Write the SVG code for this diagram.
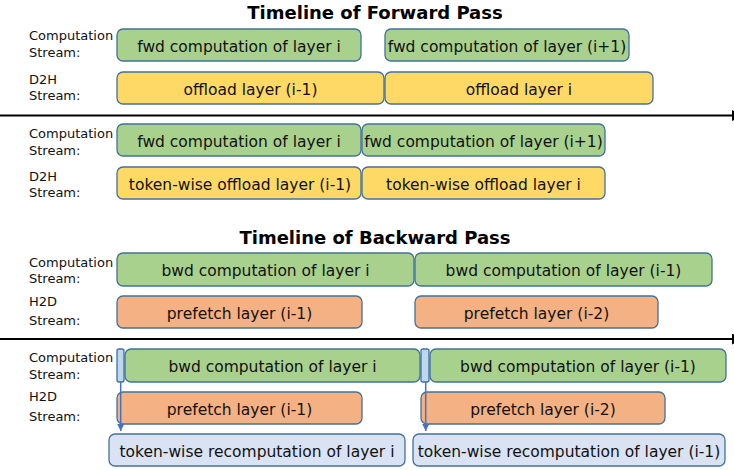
<svg xmlns="http://www.w3.org/2000/svg" width="734" height="470" viewBox="0 0 734 470">
<defs>
<style>
.box{stroke:#41719C;stroke-width:1.3}
.g{fill:#A9D18E}
.y{fill:#FFD966}
.o{fill:#F4B183}
.lb{fill:#DAE3F3}
.sb{fill:#BDD7EE}
.t{font-family:"DejaVu Sans","Noto Sans",sans-serif;font-size:15.5px;fill:#111;text-anchor:middle}
.lab{font-family:"DejaVu Sans","Noto Sans",sans-serif;font-size:13px;fill:#111}
.title{font-family:"DejaVu Sans","Noto Sans",sans-serif;font-size:18px;font-weight:bold;fill:#000;text-anchor:middle}
.axis{stroke:#000;stroke-width:2.2;fill:none}
.arr{stroke:#4472C4;stroke-width:1.5;fill:none}
</style>
<marker id="axhead" viewBox="0 0 10 10" refX="10" refY="5" markerWidth="5" markerHeight="5" orient="auto" markerUnits="strokeWidth">
<path d="M0,0 L10,5 L0,10 z" fill="#000"/>
</marker>
<marker id="bhead" viewBox="0 0 10 10" refX="10" refY="5" markerWidth="5" markerHeight="5" orient="auto" markerUnits="strokeWidth">
<path d="M0,0 L10,5 L0,10 z" fill="#4472C4"/>
</marker>
</defs>
<rect width="734" height="470" fill="#fff"/>

<text class="title" x="375" y="19">Timeline of Forward Pass</text>
<text class="title" x="375" y="244">Timeline of Backward Pass</text>

<g id="labels">
<text class="lab" x="29" y="40">Computation</text>
<text class="lab" x="29" y="57">Stream:</text>
<text class="lab" x="29" y="84">D2H</text>
<text class="lab" x="29" y="100">Stream:</text>

<text class="lab" x="29" y="138">Computation</text>
<text class="lab" x="29" y="155">Stream:</text>
<text class="lab" x="29" y="181">D2H</text>
<text class="lab" x="29" y="197">Stream:</text>

<text class="lab" x="29" y="267">Computation</text>
<text class="lab" x="29" y="283">Stream:</text>
<text class="lab" x="29" y="306">H2D</text>
<text class="lab" x="29" y="325">Stream:</text>

<text class="lab" x="29" y="362">Computation</text>
<text class="lab" x="29" y="379">Stream:</text>
<text class="lab" x="29" y="401">H2D</text>
<text class="lab" x="29" y="421">Stream:</text>
</g>

<!-- Section 1 -->
<g id="f1-comp-i"><rect class="box g" x="117" y="29" width="244" height="32" rx="6"/><text class="t" x="239" y="51.5">fwd computation of layer i</text></g>
<g id="f1-comp-i1"><rect class="box g" x="385" y="29" width="244" height="32" rx="6"/><text class="t" x="507" y="51.5">fwd computation of layer (i+1)</text></g>
<g id="f1-off-im1"><rect class="box y" x="117" y="72" width="267" height="32" rx="6"/><text class="t" x="250.5" y="94.5">offload layer (i-1)</text></g>
<g id="f1-off-i"><rect class="box y" x="385" y="72" width="268" height="32" rx="6"/><text class="t" x="519" y="94.5">offload layer i</text></g>

<!-- Section 2 -->
<g id="f2-comp-i"><rect class="box g" x="117" y="124" width="244" height="32" rx="6"/><text class="t" x="239" y="146.5">fwd computation of layer i</text></g>
<g id="f2-comp-i1"><rect class="box g" x="362" y="124" width="243" height="32" rx="6"/><text class="t" x="483.5" y="146.5">fwd computation of layer (i+1)</text></g>
<g id="f2-off-im1"><rect class="box y" x="117" y="167" width="244" height="32" rx="6"/><text class="t" x="240" y="189.5">token-wise offload layer (i-1)</text></g>
<g id="f2-off-i"><rect class="box y" x="362" y="167" width="243" height="32" rx="6"/><text class="t" x="483.5" y="189.5">token-wise offload layer i</text></g>

<!-- Section 3 -->
<g id="b1-comp-i"><rect class="box g" x="117" y="253" width="297" height="33" rx="6"/><text class="t" x="265.5" y="276">bwd computation of layer i</text></g>
<g id="b1-comp-im1"><rect class="box g" x="415" y="253" width="297" height="33" rx="6"/><text class="t" x="563.5" y="276">bwd computation of layer (i-1)</text></g>
<g id="b1-pre-im1"><rect class="box o" x="117" y="296" width="245" height="32" rx="6"/><text class="t" x="239.5" y="318.5">prefetch layer (i-1)</text></g>
<g id="b1-pre-im2"><rect class="box o" x="415" y="296" width="243" height="32" rx="6"/><text class="t" x="536.5" y="318.5">prefetch layer (i-2)</text></g>

<!-- Section 4 -->
<g id="b2-small-1"><rect class="box sb" x="117" y="349" width="7" height="33" rx="2"/></g>
<g id="b2-comp-i"><rect class="box g" x="125" y="349" width="295" height="33" rx="6"/><text class="t" x="272.5" y="372">bwd computation of layer i</text></g>
<g id="b2-small-2"><rect class="box sb" x="421" y="349" width="8" height="33" rx="2"/></g>
<g id="b2-comp-im1"><rect class="box g" x="430" y="349" width="296" height="33" rx="6"/><text class="t" x="578" y="372">bwd computation of layer (i-1)</text></g>
<g id="b2-pre-im1"><rect class="box o" x="117" y="392" width="245" height="32" rx="6"/><text class="t" x="239.5" y="414.5">prefetch layer (i-1)</text></g>
<g id="b2-pre-im2"><rect class="box o" x="421" y="392" width="244" height="32" rx="6"/><text class="t" x="543" y="414.5">prefetch layer (i-2)</text></g>
<g id="b2-rec-i"><rect class="box lb" x="109" y="434" width="296" height="32" rx="6"/><text class="t" x="257" y="456.5">token-wise recomputation of layer i</text></g>
<g id="b2-rec-im1"><rect class="box lb" x="413" y="434" width="312" height="32" rx="6"/><text class="t" x="569" y="456.5">token-wise recomputation of layer (i-1)</text></g>

<g id="connectors">
<line class="axis" x1="0" y1="115.5" x2="743" y2="115.5" marker-end="url(#axhead)"/>
<line class="axis" x1="0" y1="339" x2="743" y2="339" marker-end="url(#axhead)"/>
<line class="arr" x1="120.7" y1="382" x2="120.7" y2="431" marker-end="url(#bhead)"/>
<line class="arr" x1="425.7" y1="382" x2="425.7" y2="431" marker-end="url(#bhead)"/>
</g>
</svg>
